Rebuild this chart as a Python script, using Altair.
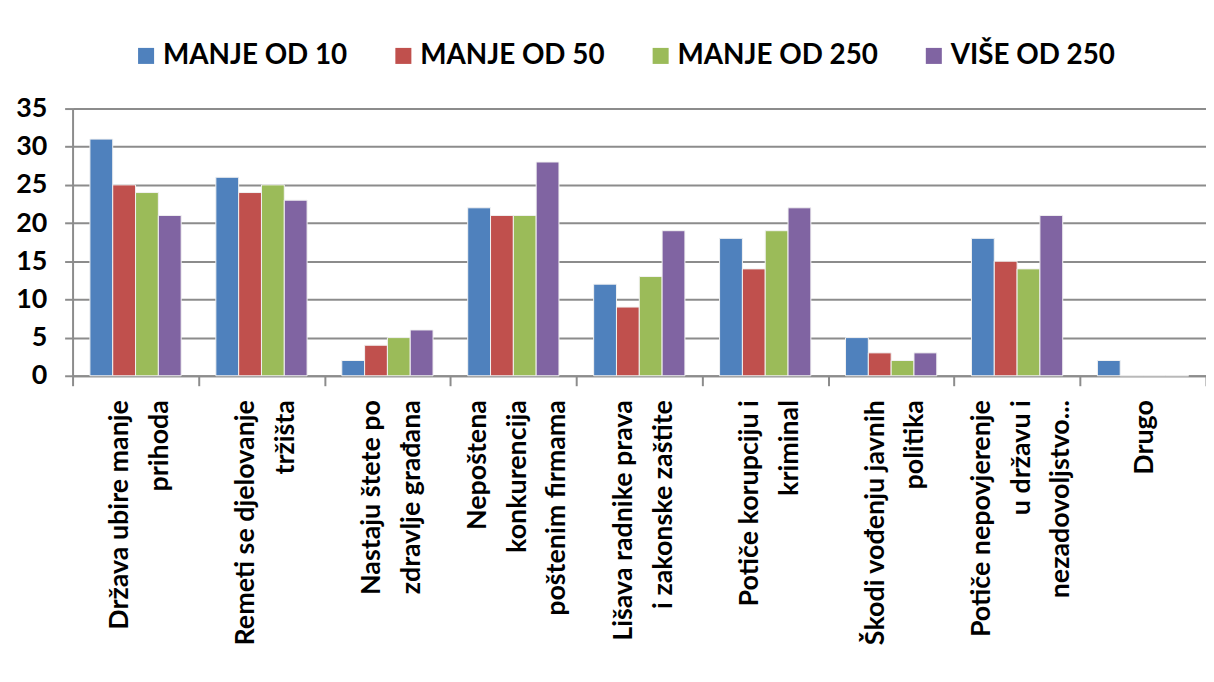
import altair as alt
import pandas as pd

categories = [
    "Država ubire manje\nprihoda",
    "Remeti se djelovanje\ntržišta",
    "Nastaju štete po\nzdravlje građana",
    "Nepoštena\nkonkurencija\npoštenim firmama",
    "Lišava radnike prava\ni zakonske zaštite",
    "Potiče korupciju i\nkriminal",
    "Škodi vođenju javnih\npolitika",
    "Potiče nepovjerenje\nu državu i\nnezadovoljstvo...",
    "Drugo",
]
series = ["MANJE OD 10", "MANJE OD 50", "MANJE OD 250", "VIŠE OD 250"]
manje_od_10 = [31, 26, 2, 22, 12, 18, 5, 18, 2]
manje_od_50 = [25, 24, 4, 21, 9, 14, 3, 15, 0]
manje_od_250 = [24, 25, 5, 21, 13, 19, 2, 14, 0]
vise_od_250 = [21, 23, 6, 28, 19, 22, 3, 21, 0]
colors = ["#4F81BD", "#C0504D", "#9BBB59", "#8064A2"]

rows = []
for s, vals in zip(series, [manje_od_10, manje_od_50, manje_od_250, vise_od_250]):
    for c, v in zip(categories, vals):
        rows.append({"kategorija": c, "grupa": s, "vrijednost": v})
df = pd.DataFrame(rows)

FONT = "Lato"
WEIGHT = "bold"
GRID = "#8C8C8C"
LH = 40

chart = alt.Chart(df).mark_bar(stroke="#F2F2F2", strokeWidth=1).encode(
    x=alt.X(
        "kategorija:N",
        sort=categories,
        scale=alt.Scale(paddingInner=0, paddingOuter=0),
        axis=alt.Axis(
            title=None,
            labelAngle=270,
            labelAlign="right",
            labelBaseline="middle",
            labelExpr="split(datum.label, '\\n')",
            labelFont=FONT,
            labelFontSize=27,
            labelFontWeight=WEIGHT,
            labelColor="black",
            labelLineHeight=LH,
            labelPadding=14,
            labelLimit=400,
            labelOffset={
                "condition": [
                    {"test": "length(split(datum.label, '\\n')) == 3", "value": -LH + 4},
                    {"test": "length(split(datum.label, '\\n')) == 2", "value": -LH / 2 + 4},
                ],
                "value": 2,
            },
            tickBand="extent",
            tickSize=10,
            tickWidth=2,
            tickColor=GRID,
            domainColor=GRID,
            domainWidth=2,
            grid=False,
        ),
    ),
    xOffset=alt.XOffset(
        "grupa:N",
        sort=series,
        scale=alt.Scale(paddingInner=0, paddingOuter=0.76),
    ),
    y=alt.Y(
        "vrijednost:Q",
        scale=alt.Scale(domain=[0, 35], nice=False),
        axis=alt.Axis(
            title=None,
            values=[0, 5, 10, 15, 20, 25, 30, 35],
            labelFont=FONT,
            labelFontSize=27,
            labelFontWeight=WEIGHT,
            labelColor="black",
            labelPadding=18,
            tickSize=8,
            tickWidth=2,
            tickColor=GRID,
            domainColor=GRID,
            domainWidth=2,
            gridColor=GRID,
            gridWidth=2,
        ),
    ),
    color=alt.Color(
        "grupa:N",
        sort=series,
        scale=alt.Scale(domain=series, range=colors),
        legend=alt.Legend(
            title=None,
            orient="none",
            direction="horizontal",
            legendX=60,
            legendY=-67,
            padding=0,
            symbolType="square",
            symbolSize=260,
            symbolStrokeWidth=0,
            labelFont=FONT,
            labelFontSize=28,
            labelFontWeight=WEIGHT,
            labelColor="black",
            labelOffset=3,
            columnPadding=42,
            labelLimit=400,
        ),
    ),
).properties(
    width=1141,
    height=269,
    autosize=alt.AutoSizeParams(type="none"),
    padding={"left": 65, "top": 99, "right": 0, "bottom": 300},
).configure_view(stroke=None)

chart.save("out.html", embed_options={"renderer": "svg", "actions": False})
